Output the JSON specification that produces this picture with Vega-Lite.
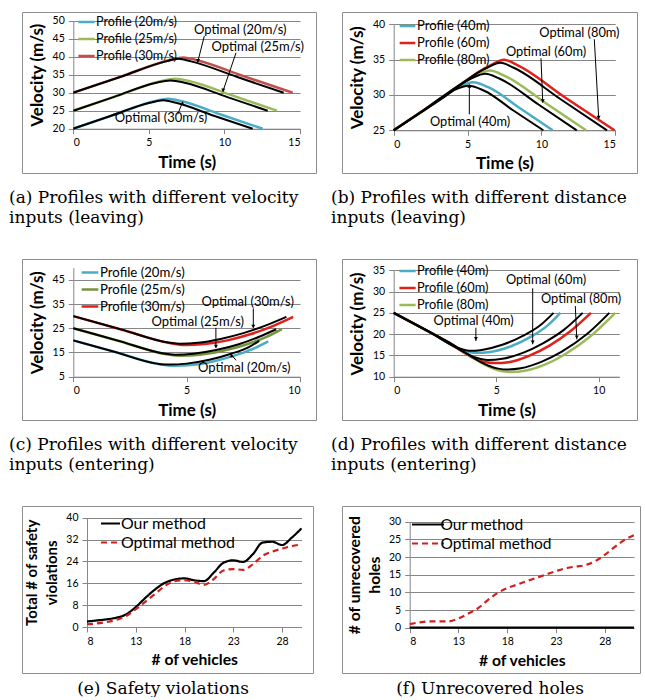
{
  "$schema": "https://vega.github.io/schema/vega-lite/v6.json",
  "padding": {"left": 8, "top": 11, "right": 0, "bottom": 0},
  "columns": 2,
  "spacing": {"row": 86, "column": 26},
  "bounds": "flush",
  "align": "none",
  "resolve": {
    "scale": {"color": "independent", "strokeDash": "independent", "x": "independent", "y": "independent"},
    "legend": {"color": "independent", "strokeDash": "independent"}
  },
  "config": {
    "font": "Lato",
    "view": {"stroke": "#8e8e8e", "strokeWidth": 1},
    "axis": {
      "labelFont": "Lato", "labelFontSize": 10.5, "labelColor": "#000", "labelOverlap": false, "format": "d",
      "titleFont": "Lato", "titleFontSize": 17, "titleFontWeight": "bold", "titleColor": "#000",
      "domainColor": "#868686", "tickColor": "#868686", "gridColor": "#868686",
      "tickSize": 5, "labelPadding": 4, "titlePadding": 6
    },
    "axisX": {"grid": false},
    "axisY": {"grid": true},
    "legend": {"labelFont": "Lato", "labelColor": "#000", "padding": 0, "labelOffset": 0, "rowPadding": 0},
    "title": {"font": "DejaVu Serif", "fontSize": 17, "fontWeight": "normal", "color": "#000", "lineHeight": 20, "baseline": "top"}
  },
  "concat": [
    {
      "width": 294, "height": 161,
      "title": {"text": ["(a) Profiles with different velocity", "inputs (leaving)"], "orient": "bottom", "anchor": "start", "frame": "group", "offset": 17, "dx": -13},
      "layer": [
        {
          "data": {"values": [
            {"s": "Profile (20m/s)", "t": 0, "v": 20}, {"s": "Profile (20m/s)", "t": 2.7, "v": 23.83}, {"s": "Profile (20m/s)", "t": 5.35, "v": 27.6}, {"s": "Profile (20m/s)", "t": 6.27, "v": 28.3}, {"s": "Profile (20m/s)", "t": 7.18, "v": 27.6}, {"s": "Profile (20m/s)", "t": 9.85, "v": 23.8}, {"s": "Profile (20m/s)", "t": 12.53, "v": 20},
            {"s": "Profile (25m/s)", "t": 0, "v": 25}, {"s": "Profile (25m/s)", "t": 2.9, "v": 29.1}, {"s": "Profile (25m/s)", "t": 5.77, "v": 33.2}, {"s": "Profile (25m/s)", "t": 6.74, "v": 33.9}, {"s": "Profile (25m/s)", "t": 7.71, "v": 33.2}, {"s": "Profile (25m/s)", "t": 10.6, "v": 29.1}, {"s": "Profile (25m/s)", "t": 13.48, "v": 25},
            {"s": "Profile (30m/s)", "t": 0, "v": 30}, {"s": "Profile (30m/s)", "t": 3.2, "v": 34.55}, {"s": "Profile (30m/s)", "t": 6.41, "v": 39.1}, {"s": "Profile (30m/s)", "t": 7.26, "v": 39.8}, {"s": "Profile (30m/s)", "t": 8.11, "v": 39.1}, {"s": "Profile (30m/s)", "t": 11.3, "v": 34.55}, {"s": "Profile (30m/s)", "t": 14.52, "v": 30}
          ]},
          "mark": {"type": "line", "interpolate": "monotone", "strokeWidth": 2.5},
          "encoding": {
            "x": {"field": "t", "type": "quantitative", "scale": {"domain": [0, 15], "range": [51.3, 278], "nice": false, "zero": false}, "axis": {"values": [0, 5, 10, 15], "tickCount": 20, "offset": -44.3, "title": "Time (s)"}},
            "y": {"field": "v", "type": "quantitative", "scale": {"domain": [20, 50], "range": [116.7, 8.7], "nice": false, "zero": false}, "axis": {"values": [20, 25, 30, 35, 40, 45, 50], "tickCount": 20, "offset": -51.3, "title": "Velocity (m/s)"}},
            "color": {"field": "s", "type": "nominal", "scale": {"domain": ["Profile (20m/s)", "Profile (25m/s)", "Profile (30m/s)"], "range": ["#4BACC6", "#9BBB59", "#C0504D"]},
              "legend": {"title": null, "orient": "none", "legendX": 55, "legendY": 0.5, "symbolType": "stroke", "symbolSize": 266, "symbolStrokeWidth": 2.5, "labelFontSize": 12.6}}
          }
        },
        {
          "data": {"values": [
            {"s": "Optimal (20m/s)", "t": 0, "v": 20}, {"s": "Optimal (20m/s)", "t": 2.5, "v": 23.6}, {"s": "Optimal (20m/s)", "t": 5.07, "v": 27.2}, {"s": "Optimal (20m/s)", "t": 5.94, "v": 27.9}, {"s": "Optimal (20m/s)", "t": 6.8, "v": 27.2}, {"s": "Optimal (20m/s)", "t": 9.3, "v": 23.6}, {"s": "Optimal (20m/s)", "t": 11.87, "v": 20},
            {"s": "Optimal (25m/s)", "t": 0, "v": 25}, {"s": "Optimal (25m/s)", "t": 2.7, "v": 28.85}, {"s": "Optimal (25m/s)", "t": 5.42, "v": 32.7}, {"s": "Optimal (25m/s)", "t": 6.43, "v": 33.4}, {"s": "Optimal (25m/s)", "t": 7.44, "v": 32.7}, {"s": "Optimal (25m/s)", "t": 10.15, "v": 28.85}, {"s": "Optimal (25m/s)", "t": 12.86, "v": 25},
            {"s": "Optimal (30m/s)", "t": 0, "v": 30}, {"s": "Optimal (30m/s)", "t": 3.1, "v": 34.35}, {"s": "Optimal (30m/s)", "t": 6.13, "v": 38.7}, {"s": "Optimal (30m/s)", "t": 6.96, "v": 39.4}, {"s": "Optimal (30m/s)", "t": 7.79, "v": 38.7}, {"s": "Optimal (30m/s)", "t": 10.85, "v": 34.35}, {"s": "Optimal (30m/s)", "t": 13.92, "v": 30}
          ]},
          "mark": {"type": "line", "interpolate": "monotone", "strokeWidth": 2, "color": "#000"},
          "encoding": {"x": {"field": "t", "type": "quantitative"}, "y": {"field": "v", "type": "quantitative"}, "detail": {"field": "s"}}
        },
        {
          "data": {"values": [
            {"t": 8.67, "v": 45.75, "t2": 8.23, "v2": 38.5},
            {"t": 10.77, "v": 41.1, "t2": 9.89, "v2": 30.3},
            {"t": 6.91, "v": 24.0, "t2": 7.24, "v2": 27.5}
          ]},
          "mark": {"type": "rule", "color": "#000", "strokeWidth": 1},
          "encoding": {"x": {"field": "t", "type": "quantitative"}, "y": {"field": "v", "type": "quantitative"}, "x2": {"field": "t2"}, "y2": {"field": "v2"}}
        },
        {
          "data": {"values": [{"t": 8.25, "v": 38.9}, {"t": 9.92, "v": 30.7}]},
          "mark": {"type": "point", "shape": "triangle-down", "size": 16, "filled": true, "color": "#000", "opacity": 1},
          "encoding": {"x": {"field": "t", "type": "quantitative"}, "y": {"field": "v", "type": "quantitative"}}
        },
        {
          "data": {"values": [{"t": 7.22, "v": 27.1}]},
          "mark": {"type": "point", "shape": "triangle-up", "size": 16, "filled": true, "color": "#000", "opacity": 1},
          "encoding": {"x": {"field": "t", "type": "quantitative"}, "y": {"field": "v", "type": "quantitative"}}
        },
        {
          "data": {"values": [
            {"txt": "Optimal (20m/s)", "t": 11.05, "v": 47.4},
            {"txt": "Optimal (25m/s)", "t": 12.2, "v": 42.7},
            {"txt": "Optimal (30m/s)", "t": 5.8, "v": 22.9}
          ]},
          "mark": {"type": "text", "fontSize": 13, "color": "#000", "align": "center", "baseline": "middle"},
          "encoding": {"x": {"field": "t", "type": "quantitative"}, "y": {"field": "v", "type": "quantitative"}, "text": {"field": "txt"}}
        }
      ]
    },
    {
      "width": 295, "height": 161,
      "title": {"text": ["(b) Profiles with different distance", "inputs (leaving)"], "orient": "bottom", "anchor": "start", "frame": "group", "offset": 17, "dx": -11},
      "layer": [
        {
          "data": {"values": [
            {"s": "Profile (40m)", "t": 0, "v": 25}, {"s": "Profile (40m)", "t": 2.2, "v": 28.05}, {"s": "Profile (40m)", "t": 4.36, "v": 31.1}, {"s": "Profile (40m)", "t": 5.38, "v": 31.8}, {"s": "Profile (40m)", "t": 6.4, "v": 31.1}, {"s": "Profile (40m)", "t": 8.6, "v": 28.05}, {"s": "Profile (40m)", "t": 10.76, "v": 25},
            {"s": "Profile (60m)", "t": 0, "v": 25}, {"s": "Profile (60m)", "t": 3.3, "v": 29.65}, {"s": "Profile (60m)", "t": 6.64, "v": 34.3}, {"s": "Profile (60m)", "t": 7.48, "v": 35.0}, {"s": "Profile (60m)", "t": 8.31, "v": 34.3}, {"s": "Profile (60m)", "t": 11.6, "v": 29.65}, {"s": "Profile (60m)", "t": 14.95, "v": 25},
            {"s": "Profile (80m)", "t": 0, "v": 25}, {"s": "Profile (80m)", "t": 2.8, "v": 28.9}, {"s": "Profile (80m)", "t": 5.54, "v": 32.75}, {"s": "Profile (80m)", "t": 6.51, "v": 33.45}, {"s": "Profile (80m)", "t": 7.48, "v": 32.75}, {"s": "Profile (80m)", "t": 10.25, "v": 28.9}, {"s": "Profile (80m)", "t": 13.02, "v": 25}
          ]},
          "mark": {"type": "line", "interpolate": "monotone", "strokeWidth": 2.5},
          "encoding": {
            "x": {"field": "t", "type": "quantitative", "scale": {"domain": [0, 15], "range": [51.7, 273.3], "nice": false, "zero": false}, "axis": {"values": [0, 5, 10, 15], "tickCount": 20, "offset": -42.7, "title": "Time (s)"}},
            "y": {"field": "v", "type": "quantitative", "scale": {"domain": [25, 40], "range": [118.3, 12.3], "nice": false, "zero": false}, "axis": {"values": [25, 30, 35, 40], "tickCount": 20, "offset": -51.7, "title": "Velocity (m/s)"}},
            "color": {"field": "s", "type": "nominal", "scale": {"domain": ["Profile (40m)", "Profile (60m)", "Profile (80m)"], "range": ["#4BACC6", "#E0201B", "#9BBB59"]},
              "legend": {"title": null, "orient": "none", "legendX": 56, "legendY": 4.5, "symbolType": "stroke", "symbolSize": 246, "symbolStrokeWidth": 2.5, "labelFontSize": 13}}
          }
        },
        {
          "data": {"values": [
            {"s": "O40", "t": 0, "v": 25}, {"s": "O40", "t": 2.0, "v": 27.8}, {"s": "O40", "t": 4.0, "v": 30.6}, {"s": "O40", "t": 5.07, "v": 31.3}, {"s": "O40", "t": 6.13, "v": 30.6}, {"s": "O40", "t": 8.1, "v": 27.8}, {"s": "O40", "t": 10.13, "v": 25},
            {"s": "O60", "t": 0, "v": 25}, {"s": "O60", "t": 3.2, "v": 29.4}, {"s": "O60", "t": 6.32, "v": 33.85}, {"s": "O60", "t": 7.22, "v": 34.55}, {"s": "O60", "t": 8.12, "v": 33.85}, {"s": "O60", "t": 11.3, "v": 29.4}, {"s": "O60", "t": 14.44, "v": 25},
            {"s": "O80", "t": 0, "v": 25}, {"s": "O80", "t": 2.6, "v": 28.65}, {"s": "O80", "t": 5.21, "v": 32.3}, {"s": "O80", "t": 6.2, "v": 33.0}, {"s": "O80", "t": 7.18, "v": 32.3}, {"s": "O80", "t": 9.8, "v": 28.65}, {"s": "O80", "t": 12.39, "v": 25}
          ]},
          "mark": {"type": "line", "interpolate": "monotone", "strokeWidth": 2, "color": "#000"},
          "encoding": {"x": {"field": "t", "type": "quantitative"}, "y": {"field": "v", "type": "quantitative"}, "detail": {"field": "s"}}
        },
        {
          "data": {"values": [
            {"t": 13.58, "v": 37.88, "t2": 13.88, "v2": 26.56},
            {"t": 9.97, "v": 35.19, "t2": 10.09, "v2": 28.91},
            {"t": 5.12, "v": 27.26, "t2": 5.12, "v2": 31.5}
          ]},
          "mark": {"type": "rule", "color": "#000", "strokeWidth": 1},
          "encoding": {"x": {"field": "t", "type": "quantitative"}, "y": {"field": "v", "type": "quantitative"}, "x2": {"field": "t2"}, "y2": {"field": "v2"}}
        },
        {
          "data": {"values": [{"t": 13.87, "v": 26.8}, {"t": 10.09, "v": 29.15}]},
          "mark": {"type": "point", "shape": "triangle-down", "size": 16, "filled": true, "color": "#000", "opacity": 1},
          "encoding": {"x": {"field": "t", "type": "quantitative"}, "y": {"field": "v", "type": "quantitative"}}
        },
        {
          "data": {"values": [{"t": 5.12, "v": 31.25}]},
          "mark": {"type": "point", "shape": "triangle-up", "size": 16, "filled": true, "color": "#000", "opacity": 1},
          "encoding": {"x": {"field": "t", "type": "quantitative"}, "y": {"field": "v", "type": "quantitative"}}
        },
        {
          "data": {"values": [
            {"txt": "Optimal (80m)", "t": 12.57, "v": 38.73},
            {"txt": "Optimal (60m)", "t": 10.31, "v": 36.12},
            {"txt": "Optimal (40m)", "t": 5.17, "v": 26.22}
          ]},
          "mark": {"type": "text", "fontSize": 12.8, "color": "#000", "align": "center", "baseline": "middle"},
          "encoding": {"x": {"field": "t", "type": "quantitative"}, "y": {"field": "v", "type": "quantitative"}, "text": {"field": "txt"}}
        }
      ]
    },
    {
      "width": 294, "height": 161,
      "title": {"text": ["(c) Profiles with different velocity", "inputs (entering)"], "orient": "bottom", "anchor": "start", "frame": "group", "offset": 17, "dx": -13},
      "layer": [
        {
          "data": {"values": [
            {"s": "Profile (20m/s)", "t": 0, "v": 20}, {"s": "Profile (20m/s)", "t": 1.9, "v": 15.05}, {"s": "Profile (20m/s)", "t": 3.8, "v": 10.1}, {"s": "Profile (20m/s)", "t": 4.4, "v": 9.5}, {"s": "Profile (20m/s)", "t": 5.3, "v": 9.9}, {"s": "Profile (20m/s)", "t": 6.3, "v": 11.6}, {"s": "Profile (20m/s)", "t": 7.3, "v": 14.3}, {"s": "Profile (20m/s)", "t": 8.0, "v": 16.8}, {"s": "Profile (20m/s)", "t": 8.6, "v": 19.6},
            {"s": "Profile (25m/s)", "t": 0, "v": 25}, {"s": "Profile (25m/s)", "t": 2.05, "v": 19.65}, {"s": "Profile (25m/s)", "t": 4.1, "v": 14.3}, {"s": "Profile (25m/s)", "t": 4.7, "v": 13.7}, {"s": "Profile (25m/s)", "t": 5.6, "v": 14.1}, {"s": "Profile (25m/s)", "t": 6.6, "v": 15.7}, {"s": "Profile (25m/s)", "t": 7.6, "v": 18.2}, {"s": "Profile (25m/s)", "t": 8.5, "v": 21.3}, {"s": "Profile (25m/s)", "t": 9.2, "v": 24.6},
            {"s": "Profile (30m/s)", "t": 0, "v": 30}, {"s": "Profile (30m/s)", "t": 2.15, "v": 24.4}, {"s": "Profile (30m/s)", "t": 4.3, "v": 18.8}, {"s": "Profile (30m/s)", "t": 4.9, "v": 18.1}, {"s": "Profile (30m/s)", "t": 5.8, "v": 18.5}, {"s": "Profile (30m/s)", "t": 6.8, "v": 20.0}, {"s": "Profile (30m/s)", "t": 7.8, "v": 22.5}, {"s": "Profile (30m/s)", "t": 8.8, "v": 25.9}, {"s": "Profile (30m/s)", "t": 9.7, "v": 29.7}
          ]},
          "mark": {"type": "line", "interpolate": "monotone", "strokeWidth": 2.5},
          "encoding": {
            "x": {"field": "t", "type": "quantitative", "scale": {"domain": [0, 10], "range": [51.3, 278], "nice": false, "zero": false}, "axis": {"values": [0, 5, 10], "tickCount": 20, "offset": -43.3, "title": "Time (s)"}},
            "y": {"field": "v", "type": "quantitative", "scale": {"domain": [5, 50], "range": [117.7, 8.7], "nice": false, "zero": false}, "axis": {"values": [5, 15, 25, 35, 45], "tickCount": 20, "offset": -51.3, "title": "Velocity (m/s)"}},
            "color": {"field": "s", "type": "nominal", "scale": {"domain": ["Profile (20m/s)", "Profile (25m/s)", "Profile (30m/s)"], "range": ["#4BACC6", "#77933C", "#E0201B"]},
              "legend": {"title": null, "orient": "none", "legendX": 58, "legendY": 3.5, "symbolType": "stroke", "symbolSize": 279, "symbolStrokeWidth": 2.5, "labelFontSize": 13.2}}
          }
        },
        {
          "data": {"values": [
            {"s": "O20", "t": 0, "v": 20}, {"s": "O20", "t": 1.85, "v": 15.2}, {"s": "O20", "t": 3.7, "v": 10.4}, {"s": "O20", "t": 4.2, "v": 10.0}, {"s": "O20", "t": 5.0, "v": 10.4}, {"s": "O20", "t": 6.0, "v": 12.0}, {"s": "O20", "t": 7.0, "v": 14.6}, {"s": "O20", "t": 7.7, "v": 17.0}, {"s": "O20", "t": 8.2, "v": 19.8},
            {"s": "O25", "t": 0, "v": 25}, {"s": "O25", "t": 2.0, "v": 19.8}, {"s": "O25", "t": 4.0, "v": 14.6}, {"s": "O25", "t": 4.5, "v": 14.1}, {"s": "O25", "t": 5.3, "v": 14.5}, {"s": "O25", "t": 6.3, "v": 16.0}, {"s": "O25", "t": 7.3, "v": 18.4}, {"s": "O25", "t": 8.2, "v": 21.5}, {"s": "O25", "t": 8.95, "v": 24.6},
            {"s": "O30", "t": 0, "v": 30}, {"s": "O30", "t": 2.1, "v": 24.55}, {"s": "O30", "t": 4.2, "v": 19.1}, {"s": "O30", "t": 4.7, "v": 18.6}, {"s": "O30", "t": 5.5, "v": 19.0}, {"s": "O30", "t": 6.5, "v": 20.6}, {"s": "O30", "t": 7.5, "v": 23.0}, {"s": "O30", "t": 8.5, "v": 26.2}, {"s": "O30", "t": 9.4, "v": 29.7}
          ]},
          "mark": {"type": "line", "interpolate": "monotone", "strokeWidth": 2, "color": "#000"},
          "encoding": {"x": {"field": "t", "type": "quantitative"}, "y": {"field": "v", "type": "quantitative"}, "detail": {"field": "s"}}
        },
        {
          "data": {"values": [
            {"t": 7.94, "v": 33.2, "t2": 7.94, "v2": 25.2},
            {"t": 6.29, "v": 25.2, "t2": 6.29, "v2": 17.0},
            {"t": 7.18, "v": 11.76, "t2": 6.96, "v2": 14.2}
          ]},
          "mark": {"type": "rule", "color": "#000", "strokeWidth": 1},
          "encoding": {"x": {"field": "t", "type": "quantitative"}, "y": {"field": "v", "type": "quantitative"}, "x2": {"field": "t2"}, "y2": {"field": "v2"}}
        },
        {
          "data": {"values": [{"t": 7.94, "v": 25.7}, {"t": 6.29, "v": 17.5}]},
          "mark": {"type": "point", "shape": "triangle-down", "size": 16, "filled": true, "color": "#000", "opacity": 1},
          "encoding": {"x": {"field": "t", "type": "quantitative"}, "y": {"field": "v", "type": "quantitative"}}
        },
        {
          "data": {"values": [{"t": 6.98, "v": 13.7}]},
          "mark": {"type": "point", "shape": "triangle-up", "size": 16, "filled": true, "color": "#000", "opacity": 1},
          "encoding": {"x": {"field": "t", "type": "quantitative"}, "y": {"field": "v", "type": "quantitative"}}
        },
        {
          "data": {"values": [
            {"txt": "Optimal (30m/s)", "t": 7.69, "v": 35.8},
            {"txt": "Optimal (25m/s)", "t": 5.49, "v": 27.7},
            {"txt": "Optimal (20m/s)", "t": 7.54, "v": 8.46}
          ]},
          "mark": {"type": "text", "fontSize": 13, "color": "#000", "align": "center", "baseline": "middle"},
          "encoding": {"x": {"field": "t", "type": "quantitative"}, "y": {"field": "v", "type": "quantitative"}, "text": {"field": "txt"}}
        }
      ]
    },
    {
      "width": 295, "height": 161,
      "title": {"text": ["(d) Profiles with different distance", "inputs (entering)"], "orient": "bottom", "anchor": "start", "frame": "group", "offset": 17, "dx": -11},
      "layer": [
        {
          "data": {"values": [
            {"s": "Profile (40m)", "t": 0, "v": 25}, {"s": "Profile (40m)", "t": 1.75, "v": 20.5}, {"s": "Profile (40m)", "t": 3.5, "v": 16.0}, {"s": "Profile (40m)", "t": 4.0, "v": 15.6}, {"s": "Profile (40m)", "t": 4.7, "v": 15.8}, {"s": "Profile (40m)", "t": 5.7, "v": 17.1}, {"s": "Profile (40m)", "t": 6.7, "v": 19.4}, {"s": "Profile (40m)", "t": 7.5, "v": 22.0}, {"s": "Profile (40m)", "t": 8.13, "v": 25},
            {"s": "Profile (60m)", "t": 0, "v": 25}, {"s": "Profile (60m)", "t": 2.25, "v": 19.2}, {"s": "Profile (60m)", "t": 4.5, "v": 13.4}, {"s": "Profile (60m)", "t": 4.95, "v": 13.2}, {"s": "Profile (60m)", "t": 5.6, "v": 13.4}, {"s": "Profile (60m)", "t": 6.6, "v": 14.9}, {"s": "Profile (60m)", "t": 7.6, "v": 17.3}, {"s": "Profile (60m)", "t": 8.6, "v": 20.6}, {"s": "Profile (60m)", "t": 9.62, "v": 25},
            {"s": "Profile (80m)", "t": 0, "v": 25}, {"s": "Profile (80m)", "t": 2.65, "v": 18.15}, {"s": "Profile (80m)", "t": 5.3, "v": 11.3}, {"s": "Profile (80m)", "t": 5.7, "v": 11.1}, {"s": "Profile (80m)", "t": 6.4, "v": 11.4}, {"s": "Profile (80m)", "t": 7.4, "v": 12.9}, {"s": "Profile (80m)", "t": 8.4, "v": 15.4}, {"s": "Profile (80m)", "t": 9.6, "v": 19.5}, {"s": "Profile (80m)", "t": 10.81, "v": 25}
          ]},
          "mark": {"type": "line", "interpolate": "monotone", "strokeWidth": 2.5},
          "encoding": {
            "x": {"field": "t", "type": "quantitative", "scale": {"domain": [0, 11], "range": [51.7, 277.2], "nice": false, "zero": false}, "axis": {"values": [0, 5, 10], "tickCount": 20, "offset": -43.3, "title": "Time (s)"}},
            "y": {"field": "v", "type": "quantitative", "scale": {"domain": [10, 35], "range": [117.7, 11.3], "nice": false, "zero": false}, "axis": {"values": [10, 15, 20, 25, 30, 35], "tickCount": 20, "offset": -51.7, "title": "Velocity (m/s)"}},
            "color": {"field": "s", "type": "nominal", "scale": {"domain": ["Profile (40m)", "Profile (60m)", "Profile (80m)"], "range": ["#4BACC6", "#E0201B", "#9BBB59"]},
              "legend": {"title": null, "orient": "none", "legendX": 56, "legendY": 2.5, "symbolType": "stroke", "symbolSize": 262, "symbolStrokeWidth": 2.5, "labelFontSize": 12.8}}
          }
        },
        {
          "data": {"values": [
            {"s": "O40", "t": 0, "v": 25}, {"s": "O40", "t": 1.65, "v": 20.75}, {"s": "O40", "t": 3.3, "v": 16.5}, {"s": "O40", "t": 3.7, "v": 16.1}, {"s": "O40", "t": 4.3, "v": 16.3}, {"s": "O40", "t": 5.3, "v": 17.5}, {"s": "O40", "t": 6.3, "v": 19.6}, {"s": "O40", "t": 7.1, "v": 21.9}, {"s": "O40", "t": 7.8, "v": 25},
            {"s": "O60", "t": 0, "v": 25}, {"s": "O60", "t": 2.1, "v": 19.6}, {"s": "O60", "t": 4.2, "v": 14.2}, {"s": "O60", "t": 4.6, "v": 13.9}, {"s": "O60", "t": 5.3, "v": 14.2}, {"s": "O60", "t": 6.3, "v": 15.6}, {"s": "O60", "t": 7.3, "v": 17.9}, {"s": "O60", "t": 8.3, "v": 21.0}, {"s": "O60", "t": 9.22, "v": 25},
            {"s": "O80", "t": 0, "v": 25}, {"s": "O80", "t": 2.55, "v": 18.45}, {"s": "O80", "t": 5.1, "v": 11.9}, {"s": "O80", "t": 5.5, "v": 11.7}, {"s": "O80", "t": 6.2, "v": 12.0}, {"s": "O80", "t": 7.2, "v": 13.5}, {"s": "O80", "t": 8.2, "v": 15.9}, {"s": "O80", "t": 9.4, "v": 19.9}, {"s": "O80", "t": 10.52, "v": 25}
          ]},
          "mark": {"type": "line", "interpolate": "monotone", "strokeWidth": 2, "color": "#000"},
          "encoding": {"x": {"field": "t", "type": "quantitative"}, "y": {"field": "v", "type": "quantitative"}, "detail": {"field": "s"}}
        },
        {
          "data": {"values": [
            {"t": 6.78, "v": 30.77, "t2": 6.78, "v2": 17.61},
            {"t": 8.86, "v": 26.6, "t2": 8.93, "v2": 18.79},
            {"t": 4.01, "v": 21.5, "t2": 4.01, "v2": 18.39}
          ]},
          "mark": {"type": "rule", "color": "#000", "strokeWidth": 1},
          "encoding": {"x": {"field": "t", "type": "quantitative"}, "y": {"field": "v", "type": "quantitative"}, "x2": {"field": "t2"}, "y2": {"field": "v2"}}
        },
        {
          "data": {"values": [{"t": 6.78, "v": 18.1}, {"t": 8.93, "v": 19.3}, {"t": 4.01, "v": 18.9}]},
          "mark": {"type": "point", "shape": "triangle-down", "size": 16, "filled": true, "color": "#000", "opacity": 1},
          "encoding": {"x": {"field": "t", "type": "quantitative"}, "y": {"field": "v", "type": "quantitative"}}
        },
        {
          "data": {"values": [
            {"txt": "Optimal (60m)", "t": 7.43, "v": 32.72},
            {"txt": "Optimal (80m)", "t": 9.14, "v": 28.19},
            {"txt": "Optimal (40m)", "t": 3.9, "v": 23.09}
          ]},
          "mark": {"type": "text", "fontSize": 12.8, "color": "#000", "align": "center", "baseline": "middle"},
          "encoding": {"x": {"field": "t", "type": "quantitative"}, "y": {"field": "v", "type": "quantitative"}, "text": {"field": "txt"}}
        }
      ]
    },
    {
      "width": 291, "height": 167,
      "title": {"text": "(e) Safety violations", "orient": "bottom", "anchor": "middle", "frame": "group", "offset": 7.5, "dx": -4.5},
      "data": {"values": [
        {"m": "Our method", "n": 8, "c": 2.0}, {"m": "Our method", "n": 9, "c": 2.4}, {"m": "Our method", "n": 10, "c": 2.8}, {"m": "Our method", "n": 11, "c": 3.4}, {"m": "Our method", "n": 12, "c": 4.6}, {"m": "Our method", "n": 13, "c": 7.3}, {"m": "Our method", "n": 14, "c": 10.7}, {"m": "Our method", "n": 15, "c": 13.8}, {"m": "Our method", "n": 16, "c": 16.2}, {"m": "Our method", "n": 17, "c": 17.4}, {"m": "Our method", "n": 18, "c": 17.8}, {"m": "Our method", "n": 19, "c": 17.1}, {"m": "Our method", "n": 20, "c": 16.8}, {"m": "Our method", "n": 21, "c": 19.9}, {"m": "Our method", "n": 22, "c": 23.5}, {"m": "Our method", "n": 23, "c": 24.4}, {"m": "Our method", "n": 24, "c": 23.8}, {"m": "Our method", "n": 25, "c": 26.6}, {"m": "Our method", "n": 26, "c": 30.9}, {"m": "Our method", "n": 27, "c": 31.2}, {"m": "Our method", "n": 28, "c": 30.0}, {"m": "Our method", "n": 29, "c": 32.7}, {"m": "Our method", "n": 30, "c": 36.1},
        {"m": "Optimal method", "n": 8, "c": 1.0}, {"m": "Optimal method", "n": 9, "c": 1.3}, {"m": "Optimal method", "n": 10, "c": 1.8}, {"m": "Optimal method", "n": 11, "c": 2.6}, {"m": "Optimal method", "n": 12, "c": 4.0}, {"m": "Optimal method", "n": 13, "c": 6.5}, {"m": "Optimal method", "n": 14, "c": 9.3}, {"m": "Optimal method", "n": 15, "c": 12.2}, {"m": "Optimal method", "n": 16, "c": 15.0}, {"m": "Optimal method", "n": 17, "c": 16.8}, {"m": "Optimal method", "n": 18, "c": 17.1}, {"m": "Optimal method", "n": 19, "c": 16.6}, {"m": "Optimal method", "n": 20, "c": 15.4}, {"m": "Optimal method", "n": 21, "c": 17.5}, {"m": "Optimal method", "n": 22, "c": 20.7}, {"m": "Optimal method", "n": 23, "c": 21.2}, {"m": "Optimal method", "n": 24, "c": 20.9}, {"m": "Optimal method", "n": 25, "c": 22.9}, {"m": "Optimal method", "n": 26, "c": 26.0}, {"m": "Optimal method", "n": 27, "c": 27.6}, {"m": "Optimal method", "n": 28, "c": 28.7}, {"m": "Optimal method", "n": 29, "c": 29.6}, {"m": "Optimal method", "n": 30, "c": 30.2}
      ]},
      "mark": {"type": "line", "interpolate": "monotone", "strokeWidth": 2.2},
      "encoding": {
        "x": {"field": "n", "type": "quantitative", "scale": {"domain": [8, 30], "range": [65, 279.5], "nice": false, "zero": false}, "axis": {"values": [8, 13, 18, 23, 28], "tickCount": 20, "offset": -46, "title": "# of vehicles", "titleFontSize": 15.7}},
        "y": {"field": "c", "type": "quantitative", "scale": {"domain": [0, 40], "range": [121, 11.7], "nice": false, "zero": false}, "axis": {"values": [0, 8, 16, 24, 32, 40], "tickCount": 20, "offset": -65, "title": ["Total # of safety", "violations"], "titleFontSize": 15, "titleLineHeight": 20}},
        "color": {"field": "m", "type": "nominal", "sort": ["Our method", "Optimal method"], "scale": {"domain": ["Our method", "Optimal method"], "range": ["#000000", "#D0201E"]},
          "legend": {"title": null, "orient": "none", "legendX": 78, "legendY": 7, "symbolType": "stroke", "symbolSize": 361, "symbolStrokeWidth": 2, "labelFontSize": 15.9}},
        "strokeDash": {"field": "m", "type": "nominal", "sort": ["Our method", "Optimal method"], "scale": {"domain": ["Our method", "Optimal method"], "range": [[1, 0], [6, 4]]},
          "legend": {"title": null, "orient": "none", "legendX": 78, "legendY": 7, "symbolType": "stroke", "symbolSize": 361, "symbolStrokeWidth": 2, "labelFontSize": 15.9}}
      }
    },
    {
      "width": 298, "height": 167,
      "title": {"text": "(f) Unrecovered holes", "orient": "bottom", "anchor": "middle", "frame": "group", "offset": 7.5, "dx": -1},
      "data": {"values": [
        {"m": "Our method", "n": 8, "c": 0}, {"m": "Our method", "n": 31, "c": 0},
        {"m": "Optimal method", "n": 8, "c": 1.0}, {"m": "Optimal method", "n": 9, "c": 1.5}, {"m": "Optimal method", "n": 10, "c": 1.8}, {"m": "Optimal method", "n": 11, "c": 1.8}, {"m": "Optimal method", "n": 12, "c": 1.8}, {"m": "Optimal method", "n": 13, "c": 2.6}, {"m": "Optimal method", "n": 14, "c": 4.0}, {"m": "Optimal method", "n": 15, "c": 5.5}, {"m": "Optimal method", "n": 16, "c": 7.8}, {"m": "Optimal method", "n": 17, "c": 9.8}, {"m": "Optimal method", "n": 18, "c": 11.2}, {"m": "Optimal method", "n": 19, "c": 12.2}, {"m": "Optimal method", "n": 20, "c": 13.2}, {"m": "Optimal method", "n": 21, "c": 14.1}, {"m": "Optimal method", "n": 22, "c": 15.1}, {"m": "Optimal method", "n": 23, "c": 16.0}, {"m": "Optimal method", "n": 24, "c": 16.8}, {"m": "Optimal method", "n": 25, "c": 17.3}, {"m": "Optimal method", "n": 26, "c": 17.7}, {"m": "Optimal method", "n": 27, "c": 18.8}, {"m": "Optimal method", "n": 28, "c": 20.6}, {"m": "Optimal method", "n": 29, "c": 22.8}, {"m": "Optimal method", "n": 30, "c": 24.8}, {"m": "Optimal method", "n": 31, "c": 26.2}
      ]},
      "mark": {"type": "line", "interpolate": "monotone", "strokeWidth": 2.2},
      "encoding": {
        "x": {"field": "n", "type": "quantitative", "scale": {"domain": [8, 31], "range": [67.7, 292], "nice": false, "zero": false}, "axis": {"values": [8, 13, 18, 23, 28], "tickCount": 20, "offset": -45.3, "title": "# of vehicles", "titleFontSize": 15.7}},
        "y": {"field": "c", "type": "quantitative", "scale": {"domain": [0, 30], "range": [121.7, 15.7], "nice": false, "zero": false}, "axis": {"values": [0, 5, 10, 15, 20, 25, 30], "tickCount": 20, "offset": -67.7, "title": ["# of unrecovered", "holes"], "titleFontSize": 15.7, "titleLineHeight": 20}},
        "color": {"field": "m", "type": "nominal", "sort": ["Our method", "Optimal method"], "scale": {"domain": ["Our method", "Optimal method"], "range": ["#000000", "#D0201E"]},
          "legend": {"title": null, "orient": "none", "legendX": 75.5, "legendY": 8, "symbolType": "M-1.75,0L1.75,0", "symbolSize": 335, "symbolStrokeWidth": 2, "labelFontSize": 15.5, "labelOffset": 2}},
        "strokeDash": {"field": "m", "type": "nominal", "sort": ["Our method", "Optimal method"], "scale": {"domain": ["Our method", "Optimal method"], "range": [[1, 0], [6, 4]]},
          "legend": {"title": null, "orient": "none", "legendX": 75.5, "legendY": 8, "symbolType": "M-1.75,0L1.75,0", "symbolSize": 335, "symbolStrokeWidth": 2, "labelFontSize": 15.5, "labelOffset": 2}}
      }
    }
  ]
}
